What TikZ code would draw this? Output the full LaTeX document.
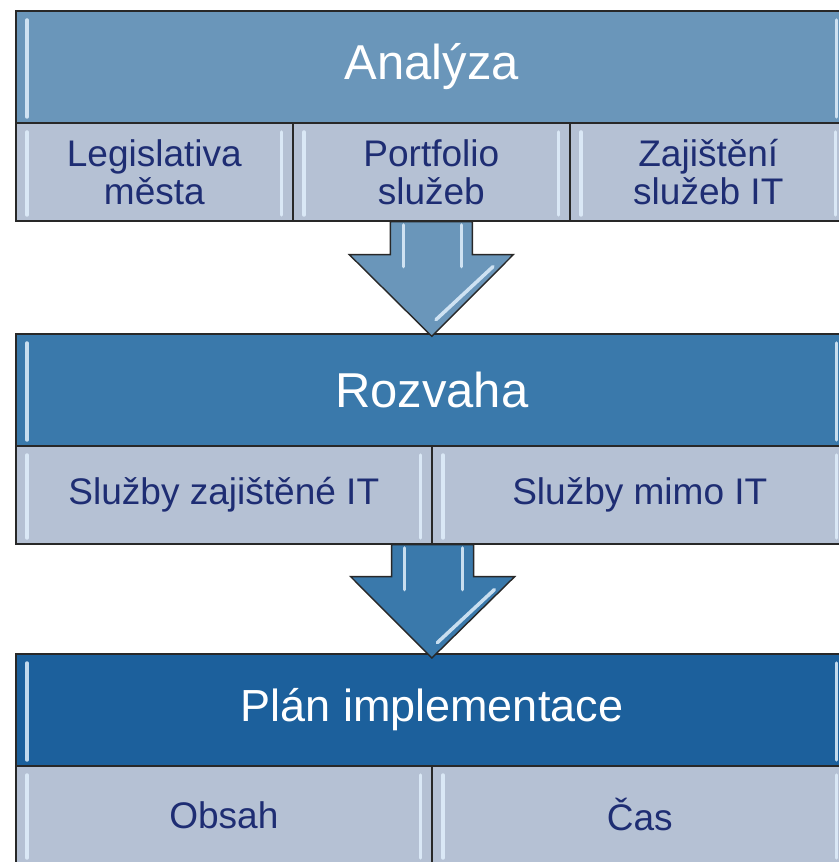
\documentclass[tikz,border=0pt]{standalone}
\usepackage{fontspec}
\setmainfont{Liberation Sans}
\usetikzlibrary{positioning}
\definecolor{hlava1}{RGB}{106,150,186}
\definecolor{hlava2}{RGB}{58,121,171}
\definecolor{hlava3}{RGB}{28,96,156}
\definecolor{svetla}{RGB}{181,193,212}
\definecolor{textmodra}{RGB}{30,45,115}
\definecolor{obrys}{RGB}{40,40,40}
\definecolor{lesk}{RGB}{225,240,252}

\begin{document}
\begin{tikzpicture}[x=0.03cm, y=-0.03cm]
  \tikzstyle{hlava} = [rectangle, draw=obrys, line width=1.4pt, text=white, anchor=north west,
    minimum width=24.96cm, minimum height=3.36cm, inner sep=0pt, font=\fontsize{41.8}{44}\selectfont]
  \tikzstyle{bunka} = [rectangle, draw=obrys, fill=svetla, line width=1.4pt, text=textmodra, anchor=north west,
    minimum height=2.94cm, inner sep=0pt, align=center, font=\fontsize{31.6}{32.4}\selectfont]
  \tikzstyle{sipka} = [draw=obrys, line width=1.2pt, line join=miter]
  \tikzstyle{odlesk} = [draw=lesk, line width=3pt, line cap=round, opacity=0.85]

  \useasboundingbox (0,0) rectangle (839,862);

  % Analýza
  \node[hlava, fill=hlava1] (ana) at (15,10) {Analýza};
  \foreach \txt [count=\i] in {{Legislativa\\města},{Portfolio\\služeb},{Zajištění\\služeb IT}}
    \node[bunka, minimum width=8.31cm] (ana-\i) at ({15+(\i-1)*277},122) {\txt};

  % Rozvaha
  \node[hlava, fill=hlava2] (roz) at (15,333) {Rozvaha};
  \foreach \txt [count=\i] in {Služby zajištěné IT,Služby mimo IT}
    \node[bunka, minimum width=12.48cm] (roz-\i) at ({15+(\i-1)*416},445) {\txt};

  % Plán implementace
  \node[hlava, fill=hlava3, font=\fontsize{38.4}{40}\selectfont] (pla) at (15,653) {Plán implementace};
  \foreach \txt [count=\i] in {Obsah,Čas}
    \node[bunka, minimum width=12.48cm] (pla-\i) at ({15+(\i-1)*416},765) {\txt};

  % odlesky
  \foreach \n in {ana,ana-1,ana-2,ana-3,roz,roz-1,roz-2,pla,pla-1,pla-2} {
    \draw[odlesk] ([xshift=0.36cm,yshift=-0.3cm]\n.north west) -- ([xshift=0.36cm,yshift=0.2cm]\n.south west);
    \draw[odlesk] ([xshift=-0.36cm,yshift=-0.3cm]\n.north east) -- ([xshift=-0.36cm,yshift=0.2cm]\n.south east);
  }

  % sipky
  \draw[sipka, fill=hlava1] ([xshift=-1.23cm]ana-2.south) |- ([xshift=-2.46cm,yshift=-0.99cm]ana-2.south)
    -- ([yshift=-0.1cm]roz.north) -- ([xshift=2.46cm,yshift=-0.99cm]ana-2.south) -| ([xshift=1.23cm]ana-2.south) -- cycle;
  \draw[sipka, fill=hlava2] ([xshift=-1.23cm]roz-1.south east) |- ([xshift=-2.46cm,yshift=-0.96cm]roz-1.south east)
    -- ([yshift=-0.15cm]pla.north) -- ([xshift=2.46cm,yshift=-0.96cm]roz-1.south east) -| ([xshift=1.23cm]roz-1.south east) -- cycle;

  \foreach \s in {ana-2.south,roz-1.south east} {
    \draw[odlesk] ([xshift=-0.84cm,yshift=-0.1cm]\s) -- ([xshift=-0.84cm,yshift=-1.35cm]\s);
    \draw[odlesk] ([xshift=0.9cm,yshift=-0.1cm]\s) -- ([xshift=0.9cm,yshift=-1.35cm]\s);
    \draw[odlesk] ([xshift=1.85cm,yshift=-1.35cm]\s) -- ([xshift=0.14cm,yshift=-2.94cm]\s);
  }
\end{tikzpicture}
\end{document}
